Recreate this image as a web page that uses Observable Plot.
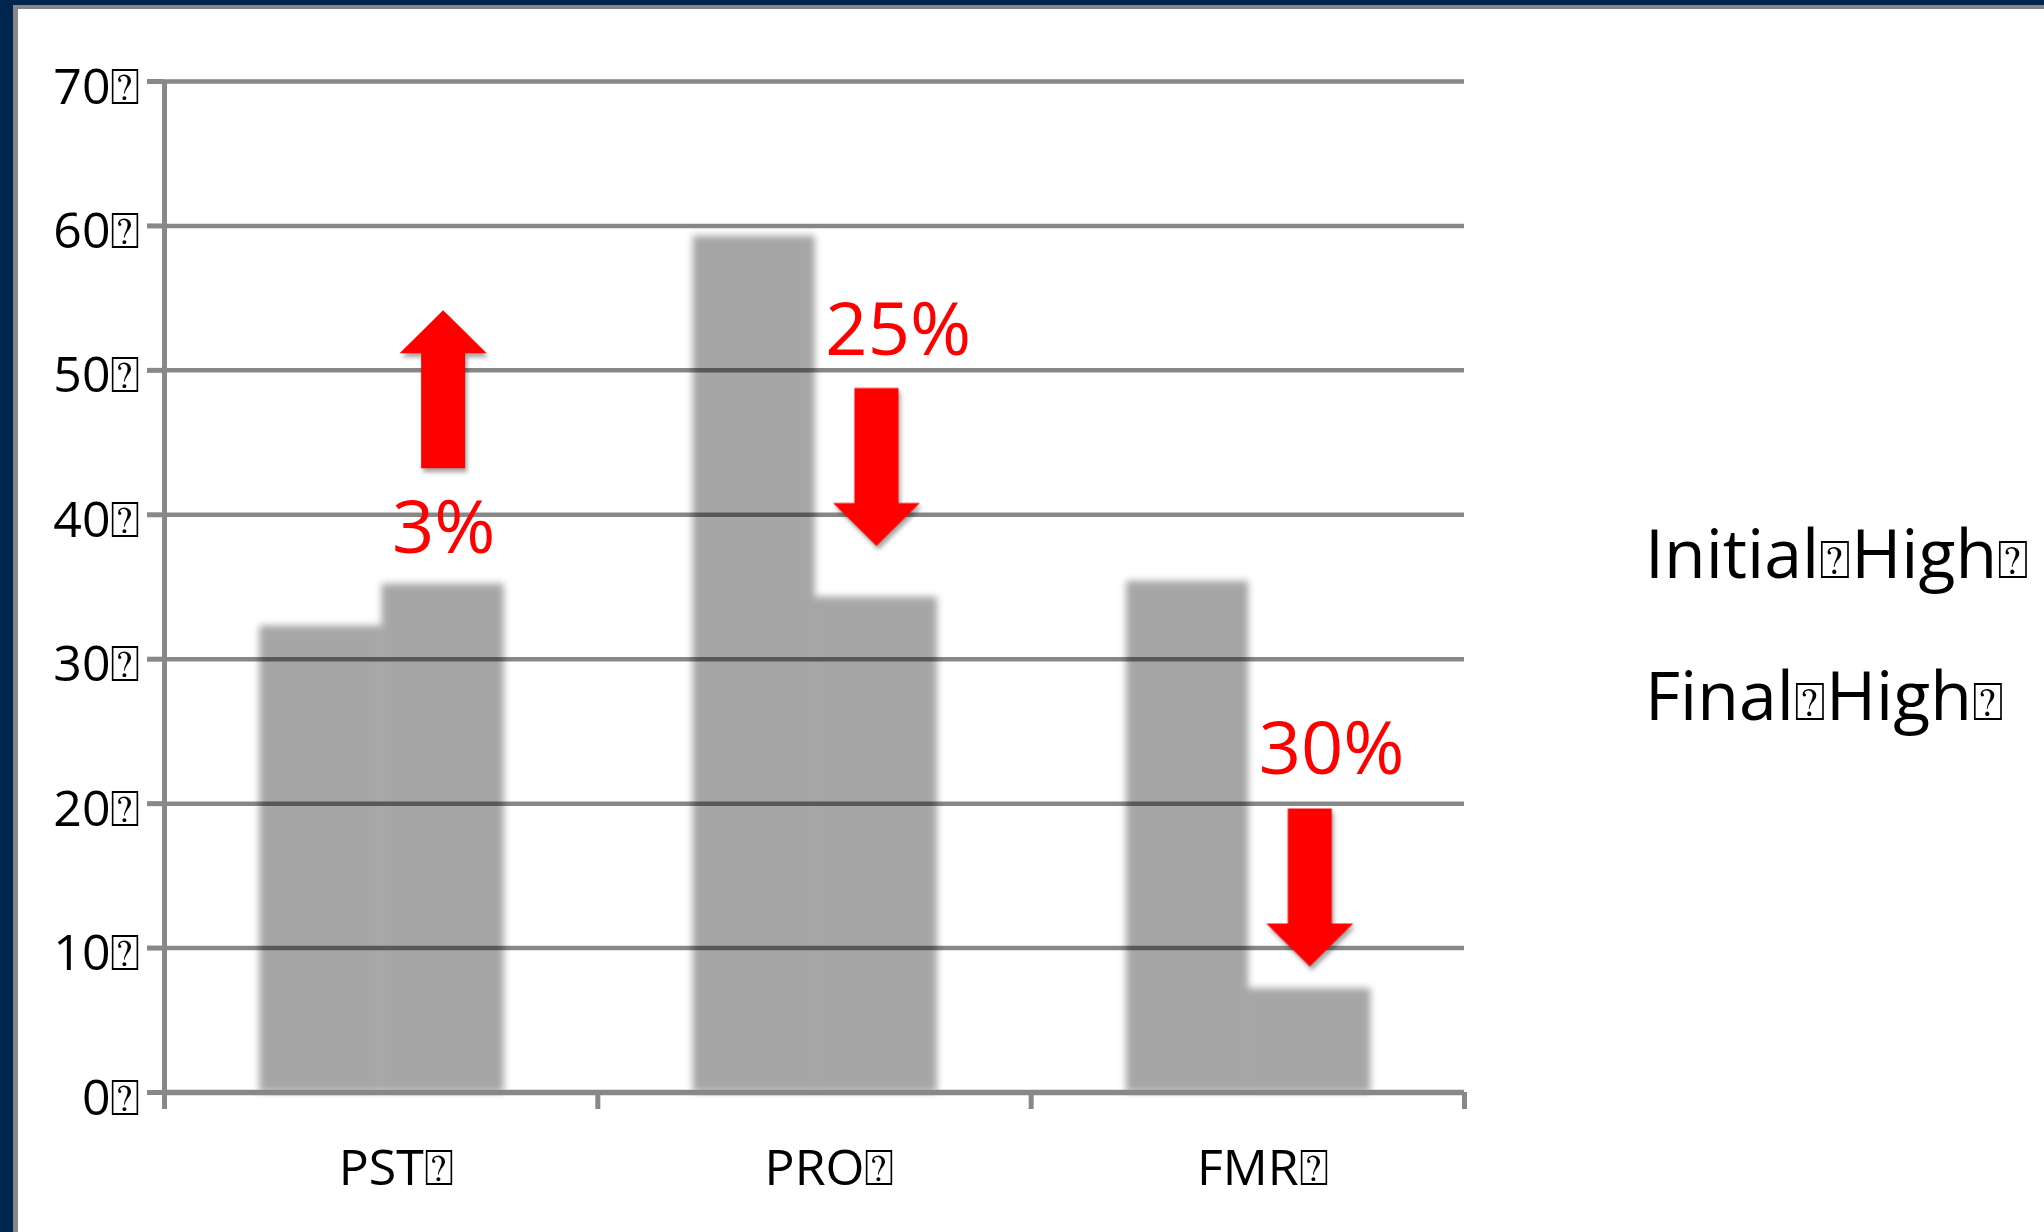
<!DOCTYPE html>
<html>
<head>
<meta charset="utf-8">
<script src="https://cdn.jsdelivr.net/npm/d3@7"></script>
<script src="https://cdn.jsdelivr.net/npm/@observablehq/plot@0.6"></script>
<style>
  html, body { margin: 0; padding: 0; background: #fff; width: 2044px; height: 1232px; overflow: hidden; }
  #frame { position: absolute; left: 0; top: 0; width: 2044px; height: 1232px; box-sizing: border-box;
           border-left: 13px solid #00254f; border-top: 5px solid #00254f; }
  #inner { position: absolute; left: 0; top: 0; right: 0; bottom: 0;
           border-left: 5px solid #878787; border-top: 4px solid #878787; }
  #chart { position: absolute; left: 0; top: 0; }
  .legend { position: absolute; left: 1645px; font-family: "Open Sans", "DejaVu Sans", sans-serif;
            font-size: 68px; line-height: 1; color: #000; white-space: nowrap; }
  .legend .box { font-size: 0.78em; }
  g[aria-label="rect"] { filter: blur(3.5px); }
  g[aria-label="dot"] { filter: drop-shadow(2px 4px 2px rgba(0,0,0,0.35)); }
</style>
</head>
<body>
<div id="frame"><div id="inner"></div></div>
<div id="chart"></div>
<div id="legend"></div>
<script>
// ---- data ----
const categories = ["PST", "PRO", "FMR"];
const seriesNames = ["Initial High", "Final High"];
const initialHigh = [32.3, 59.3, 35.4];
const finalHigh = [35.2, 34.3, 7.2];
const changeLabels = ["3%", "25%", "30%"];
const changeDirection = ["up", "down", "down"];
const arrowCenter = [48.7, 43.3, 14.2];
const labelCenter = [39.0, 52.7, 23.7];
const yTicks = [0, 10, 20, 30, 40, 50, 60, 70];
const missingGlyph = "\u2370";

// ---- layout (category units) ----
const groupStart = 0.22;
const barWidth = 0.282;

const seriesValues = [initialHigh, finalHigh];
const bars = [];
categories.forEach((c, i) => {
  seriesValues.forEach((vals, s) => {
    const x1 = i + groupStart + s * barWidth;
    bars.push({category: c, series: seriesNames[s], x1, x2: x1 + barWidth, value: vals[i]});
  });
});
const changes = categories.map((c, i) => ({
  category: c,
  x: i + groupStart + 1.5 * barWidth,
  xStart: i + groupStart + barWidth,
  arrowY: arrowCenter[i],
  labelY: labelCenter[i],
  dir: changeDirection[i],
  label: changeLabels[i]
}));

function arrowSymbol(dir) {
  const s = dir === "up" ? 1 : -1;
  return {
    draw(ctx) {
      const L = 158, h = 43, hw = 43.5, sw = 22;
      const tip = -L / 2 * s, base = (-L / 2 + h) * s, tail = L / 2 * s;
      ctx.moveTo(0, tip);
      ctx.lineTo(hw, base);
      ctx.lineTo(sw, base);
      ctx.lineTo(sw, tail);
      ctx.lineTo(-sw, tail);
      ctx.lineTo(-sw, base);
      ctx.lineTo(-hw, base);
      ctx.closePath();
    }
  };
}

const W = 1600, H = 1232;
const chart = Plot.plot({
  width: W,
  height: H,
  marginLeft: 164,
  marginRight: W - 1464,
  marginTop: 81,
  marginBottom: 140,
  x: {domain: [0, categories.length]},
  y: {domain: [0, 70]},
  style: {background: "transparent", fontFamily: '"Open Sans", "DejaVu Sans", sans-serif', color: "#000", overflow: "visible"},
  marks: [
    Plot.rectY(bars, {x1: "x1", x2: "x2", y: "value", fill: "#a6a6a6"}),
    Plot.ruleY(yTicks.filter(d => d > 0), {stroke: "#000", strokeOpacity: 0.47, strokeWidth: 4.5}),
    Plot.ruleY([0], {stroke: "#888", strokeWidth: 5.5}),
    Plot.ruleX([0], {stroke: "#888", strokeWidth: 5}),
    Plot.axisY({ticks: yTicks, tickSize: 17, stroke: "#888", strokeWidth: 5, tickFormat: () => "", label: null}),
    Plot.axisY({ticks: yTicks, tickSize: 0, tickPadding: 24, fontSize: 50, dy: 6, fill: "#000",
                tickFormat: d => d + missingGlyph, label: null}),
    Plot.axisX({ticks: d3.range(categories.length + 1), tickSize: 17, stroke: "#888", strokeWidth: 5,
                tickFormat: () => "", label: null}),
    Plot.axisX({ticks: categories.map((c, i) => i + 0.5), tickSize: 0, tickPadding: 57, fontSize: 50, dx: 15, fill: "#000",
                tickFormat: d => categories[Math.floor(d)] + missingGlyph, label: null}),
    Plot.dot(changes.filter(d => d.dir === "up"), {x: "x", y: "arrowY", symbol: arrowSymbol("up"), r: 10,
             fill: "#ff0000", stroke: "none"}),
    Plot.dot(changes.filter(d => d.dir === "down"), {x: "x", y: "arrowY", symbol: arrowSymbol("down"), r: 10,
             fill: "#ff0000", stroke: "none"}),
    Plot.text(changes, {x: "xStart", y: "labelY", text: "label", fill: "#ff0000", fontSize: 74,
              textAnchor: "start", dx: 10})
  ]
});
document.getElementById("chart").appendChild(chart);

const legendTops = [518, 660];
const lg = document.getElementById("legend");
seriesNames.forEach((name, i) => {
  const div = document.createElement("div");
  div.className = "legend";
  div.style.top = legendTops[i] + "px";
  const words = name.split(" ");
  words.forEach((w) => {
    div.appendChild(document.createTextNode(w));
    const box = document.createElement("span");
    box.className = "box";
    box.textContent = missingGlyph;
    div.appendChild(box);
  });
  lg.appendChild(div);
});
</script>
</body>
</html>
